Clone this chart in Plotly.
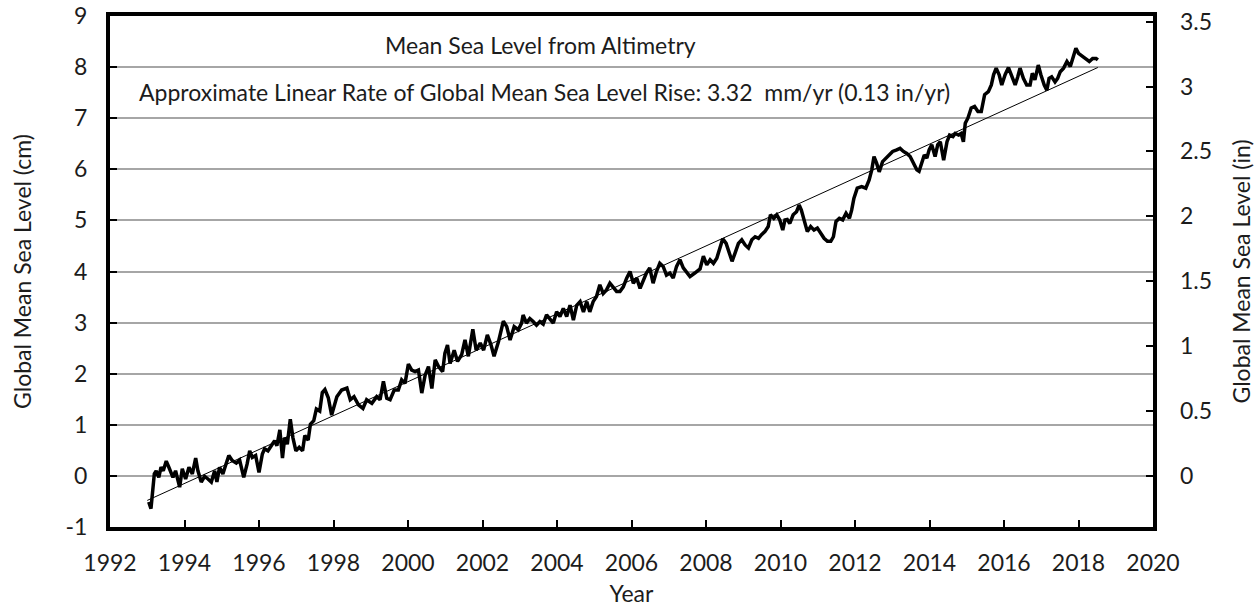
import plotly.graph_objects as go

# Global mean sea level from satellite altimetry (cm), sampled through time
years = [
    1993.04, 1993.10, 1993.19, 1993.24, 1993.31, 1993.37, 1993.43, 1993.51, 1993.58, 1993.69,
    1993.76, 1993.87, 1993.94, 1994.03, 1994.12, 1994.21, 1994.30, 1994.36, 1994.45, 1994.54,
    1994.63, 1994.72, 1994.81, 1994.87, 1994.94, 1995.03, 1995.10, 1995.19, 1995.28, 1995.39,
    1995.48, 1995.59, 1995.68, 1995.75, 1995.82, 1995.91, 1996.00, 1996.09, 1996.15, 1996.24,
    1996.33, 1996.42, 1996.48, 1996.56, 1996.63, 1996.69, 1996.76, 1996.84, 1996.91, 1996.99,
    1997.08, 1997.17, 1997.23, 1997.32, 1997.38, 1997.47, 1997.54, 1997.63, 1997.70, 1997.77,
    1997.86, 1997.95, 1998.09, 1998.22, 1998.36, 1998.45, 1998.55, 1998.67, 1998.79, 1998.89,
    1999.03, 1999.16, 1999.25, 1999.34, 1999.43, 1999.52, 1999.63, 1999.74, 1999.83, 1999.92,
    2000.01, 2000.10, 2000.19, 2000.28, 2000.37, 2000.46, 2000.55, 2000.64, 2000.73, 2000.82,
    2000.93, 2000.99, 2001.06, 2001.13, 2001.24, 2001.33, 2001.44, 2001.53, 2001.62, 2001.74,
    2001.83, 2001.94, 2002.03, 2002.13, 2002.23, 2002.31, 2002.43, 2002.56, 2002.65, 2002.74,
    2002.85, 2002.96, 2003.05, 2003.09, 2003.18, 2003.27, 2003.36, 2003.45, 2003.54, 2003.63,
    2003.72, 2003.81, 2003.90, 2003.99, 2004.08, 2004.17, 2004.26, 2004.35, 2004.44, 2004.53,
    2004.62, 2004.71, 2004.80, 2004.88, 2004.97, 2005.06, 2005.15, 2005.24, 2005.33, 2005.42,
    2005.51, 2005.60, 2005.69, 2005.78, 2005.87, 2005.96, 2006.05, 2006.14, 2006.23, 2006.32,
    2006.40, 2006.49, 2006.58, 2006.67, 2006.76, 2006.85, 2006.94, 2007.03, 2007.12, 2007.21,
    2007.30, 2007.39, 2007.48, 2007.57, 2007.70, 2007.84, 2007.93, 2008.02, 2008.11, 2008.20,
    2008.29, 2008.38, 2008.45, 2008.54, 2008.63, 2008.70, 2008.78, 2008.87, 2008.96, 2009.05,
    2009.14, 2009.23, 2009.32, 2009.41, 2009.49, 2009.58, 2009.67, 2009.73, 2009.82, 2009.90,
    2009.98, 2010.06, 2010.12, 2010.18, 2010.25, 2010.34, 2010.43, 2010.50, 2010.56, 2010.65,
    2010.72, 2010.81, 2010.90, 2010.99, 2011.08, 2011.17, 2011.26, 2011.35, 2011.42, 2011.49,
    2011.58, 2011.67, 2011.76, 2011.85, 2011.91, 2011.97, 2012.06, 2012.18, 2012.29, 2012.38,
    2012.45, 2012.51, 2012.58, 2012.65, 2012.74, 2012.90, 2013.01, 2013.12, 2013.21, 2013.30,
    2013.39, 2013.48, 2013.57, 2013.66, 2013.72, 2013.79, 2013.86, 2013.93, 2013.99, 2014.06,
    2014.15, 2014.22, 2014.29, 2014.38, 2014.47, 2014.54, 2014.63, 2014.69, 2014.78, 2014.85,
    2014.91, 2014.96, 2015.03, 2015.12, 2015.21, 2015.30, 2015.39, 2015.48, 2015.58, 2015.66,
    2015.72, 2015.79, 2015.87, 2015.94, 2016.03, 2016.12, 2016.21, 2016.30, 2016.37, 2016.43,
    2016.52, 2016.61, 2016.70, 2016.76, 2016.83, 2016.92, 2016.99, 2017.08, 2017.15, 2017.21,
    2017.28, 2017.37, 2017.44, 2017.51, 2017.60, 2017.69, 2017.78, 2017.87, 2017.93, 2018.00,
    2018.09, 2018.18, 2018.29, 2018.38, 2018.47, 2018.52,
]
gmsl_cm = [
    -0.51, -0.64, 0.04, 0.10, -0.03, 0.17, 0.10, 0.29, 0.17, -0.03,
    0.10, -0.22, 0.14, -0.06, 0.17, 0.04, 0.35, 0.10, -0.12, -0.01,
    -0.06, -0.12, 0.10, -0.12, 0.17, 0.04, 0.20, 0.40, 0.30, 0.25,
    0.31, -0.03, 0.23, 0.49, 0.36, 0.40, 0.07, 0.43, 0.53, 0.49,
    0.59, 0.69, 0.59, 0.90, 0.35, 0.75, 0.62, 1.11, 0.75, 0.49,
    0.56, 0.49, 0.79, 0.70, 1.01, 1.08, 1.31, 1.27, 1.63, 1.69,
    1.53, 1.19, 1.55, 1.68, 1.72, 1.49, 1.55, 1.39, 1.32, 1.49,
    1.42, 1.55, 1.49, 1.85, 1.52, 1.49, 1.68, 1.68, 1.88, 1.81,
    2.19, 2.07, 2.04, 2.07, 1.62, 1.97, 2.14, 1.71, 2.27, 2.14,
    2.04, 2.40, 2.56, 2.20, 2.46, 2.24, 2.37, 2.66, 2.34, 2.87,
    2.46, 2.60, 2.46, 2.76, 2.56, 2.34, 2.63, 3.03, 2.92, 2.66,
    2.92, 2.86, 2.99, 3.15, 2.99, 3.08, 3.02, 2.95, 3.02, 2.97,
    3.15, 3.08, 2.99, 3.21, 3.12, 3.28, 3.12, 3.34, 3.05, 3.34,
    3.41, 3.21, 3.41, 3.21, 3.41, 3.51, 3.74, 3.57, 3.64, 3.77,
    3.70, 3.61, 3.61, 3.70, 3.87, 4.00, 3.77, 3.87, 3.67, 3.84,
    3.97, 4.07, 3.77, 4.00, 4.16, 4.10, 3.93, 3.97, 3.87, 4.10,
    4.23, 4.07, 3.97, 3.90, 3.97, 4.05, 4.30, 4.13, 4.23, 4.16,
    4.26, 4.46, 4.64, 4.55, 4.36, 4.20, 4.36, 4.55, 4.62, 4.52,
    4.46, 4.62, 4.68, 4.65, 4.72, 4.78, 4.88, 5.11, 5.04, 5.11,
    5.01, 4.81, 5.01, 5.02, 4.94, 5.11, 5.17, 5.30, 5.20, 4.94,
    4.78, 4.88, 4.81, 4.85, 4.75, 4.65, 4.59, 4.59, 4.68, 4.98,
    5.04, 5.01, 5.14, 5.04, 5.20, 5.43, 5.63, 5.66, 5.63, 5.79,
    5.99, 6.25, 6.12, 5.95, 6.15, 6.28, 6.35, 6.38, 6.41, 6.35,
    6.31, 6.25, 6.12, 5.99, 5.96, 6.15, 6.28, 6.22, 6.38, 6.48,
    6.25, 6.48, 6.54, 6.18, 6.54, 6.67, 6.64, 6.70, 6.67, 6.70,
    6.54, 6.90, 7.00, 7.20, 7.23, 7.13, 7.13, 7.46, 7.52, 7.65,
    7.85, 7.98, 7.85, 7.65, 7.85, 7.99, 7.81, 7.65, 7.81, 7.98,
    7.78, 7.65, 7.65, 7.88, 7.75, 8.04, 7.85, 7.65, 7.55, 7.78,
    7.81, 7.71, 7.78, 7.91, 7.98, 8.11, 8.01, 8.21, 8.37, 8.27,
    8.21, 8.17, 8.11, 8.17, 8.17, 8.14,
]

# Linear fit: 3.32 mm/yr = 0.332 cm/yr
rate_mm_per_yr = 3.32
fit_start_year = 1993.0
fit_end_year = 2018.52
fit_start_cm = -0.48
fit_years = [fit_start_year, fit_end_year]
fit_cm = [fit_start_cm + rate_mm_per_yr / 10 * (y - fit_start_year) for y in fit_years]

cm_ticks = list(range(-1, 10))
in_ticks = [0, 0.5, 1, 1.5, 2, 2.5, 3, 3.5]
year_ticks = list(range(1992, 2021, 2))
CM_PER_IN = 2.54

FONT = "Lato, 'Open Sans', sans-serif"
TXT = "#1c1c1c"
FS = 23

fig = go.Figure()
fig.add_trace(go.Scatter(x=fit_years, y=fit_cm, mode="lines",
                         line=dict(color="black", width=1), hoverinfo="skip",
                         showlegend=False))
fig.add_trace(go.Scatter(x=years, y=gmsl_cm, mode="lines",
                         line=dict(color="black", width=3.5), showlegend=False))
# Same series in inches on the secondary axis (transparent, it only carries the axis)
fig.add_trace(go.Scatter(x=years, y=[v / CM_PER_IN for v in gmsl_cm], yaxis="y2",
                         mode="lines", line=dict(color="rgba(0,0,0,0)", width=0),
                         hoverinfo="skip", showlegend=False))

fig.update_layout(
    width=1259, height=607,
    margin=dict(l=110, r=106, t=16, b=80),
    paper_bgcolor="white", plot_bgcolor="white",
    font=dict(family=FONT, size=FS, color=TXT),
    xaxis=dict(
        range=[1992, 2020], tickvals=year_ticks, ticktext=[str(v) for v in year_ticks],
        ticks="inside", ticklen=7, tickwidth=1.5, tickcolor="black",
        showline=True, linecolor="black", linewidth=4, mirror=True,
        showgrid=False, zeroline=False, ticklabelstandoff=12, automargin=False,
        title=dict(text="Year", standoff=15, font=dict(size=FS)),
    ),
    yaxis=dict(
        range=[-1, 9], tickvals=cm_ticks, ticktext=[str(v) for v in cm_ticks],
        ticks="inside", ticklen=7, tickwidth=1.5,
        tickcolor="black", showline=True, linecolor="black", linewidth=4, mirror=True,
        showgrid=True, gridcolor="#a6a6a6", gridwidth=1.5, zeroline=False,
        ticklabelstandoff=14, automargin=False,
        title=dict(text="Global Mean Sea Level (cm)", standoff=28, font=dict(size=FS)),
    ),
    yaxis2=dict(
        range=[-1 / CM_PER_IN, 9 / CM_PER_IN], tickvals=in_ticks,
        ticktext=[f"{v:g}" for v in in_ticks],
        overlaying="y", side="right", ticks="inside", ticklen=7, tickwidth=1.5,
        tickcolor="black", showgrid=False, zeroline=False, showline=False,
        ticklabelstandoff=26, automargin=False,
        title=dict(text="Global Mean Sea Level (in)", standoff=22, font=dict(size=FS)),
    ),
    annotations=[
        dict(text="Mean Sea Level from Altimetry", xref="paper", yref="paper",
             x=0.413, y=0.943, xanchor="center", yanchor="middle", showarrow=False,
             font=dict(size=FS)),
        dict(text="Approximate Linear Rate of Global Mean Sea Level Rise: 3.32  mm/yr (0.13 in/yr)",
             xref="paper", yref="paper", x=0.026, y=0.851, xanchor="left",
             yanchor="middle", showarrow=False, font=dict(size=FS)),
    ],
)

fig.write_html("out.html")
